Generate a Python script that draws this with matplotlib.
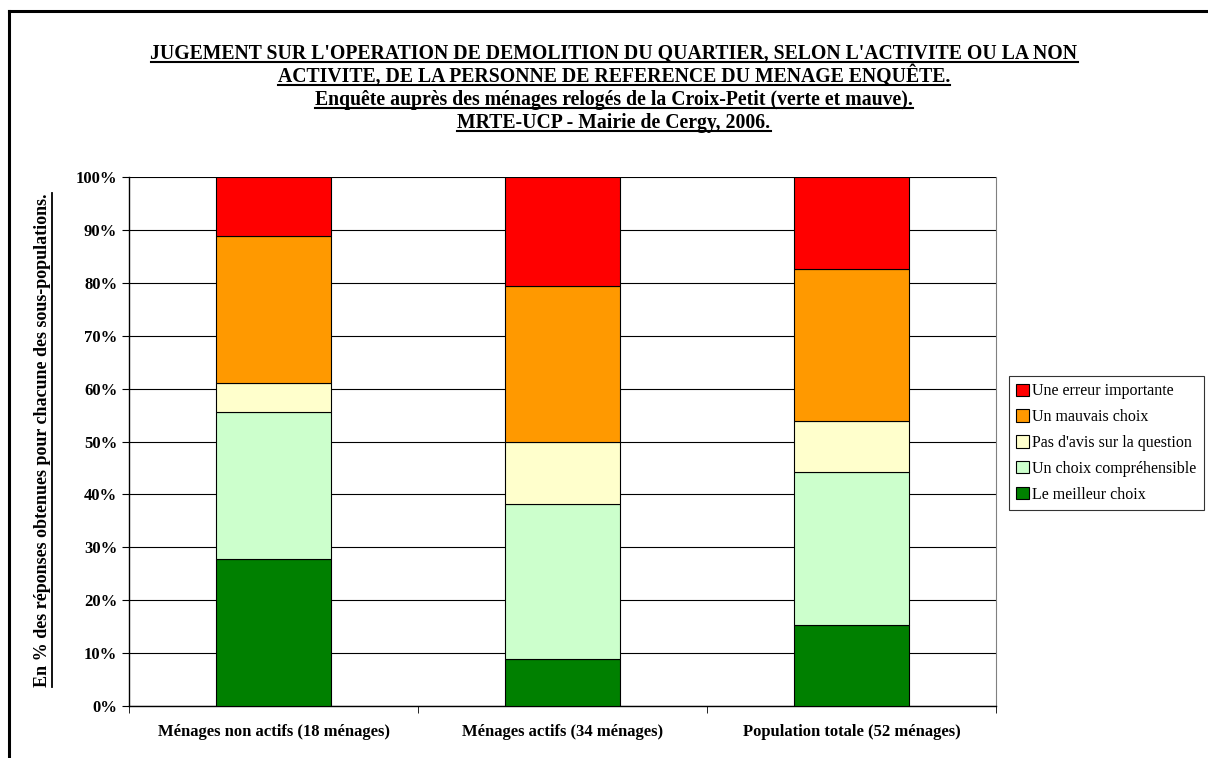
import numpy as np
import matplotlib
matplotlib.use("Agg")
from matplotlib import pyplot as plt
from matplotlib.lines import Line2D
from matplotlib.ticker import PercentFormatter

plt.rcParams['font.family'] = ['Liberation Serif', 'DejaVu Serif']

categories = ["Ménages non actifs (18 ménages)",
              "Ménages actifs (34 ménages)",
              "Population totale (52 ménages)"]
series = ["Le meilleur choix", "Un choix compréhensible",
          "Pas d'avis sur la question", "Un mauvais choix",
          "Une erreur importante"]
colors = ["#008000", "#CCFFCC", "#FFFFCC", "#FF9900", "#FF0000"]

# nombre de ménages par réponse
meilleur = np.array([5, 3, 8])
comprehensible = np.array([5, 10, 15])
sans_avis = np.array([1, 4, 5])
mauvais = np.array([5, 10, 15])
erreur = np.array([2, 7, 9])

title_lines = ["JUGEMENT SUR L'OPERATION DE DEMOLITION DU QUARTIER, SELON L'ACTIVITE OU LA NON",
               "ACTIVITE, DE LA PERSONNE DE REFERENCE DU MENAGE ENQUÊTE.",
               "Enquête auprès des ménages relogés de la Croix-Petit (verte et mauve).",
               "MRTE-UCP - Mairie de Cergy, 2006."]
ylabel = "En % des réponses obtenues pour chacune des sous-populations."

counts = [meilleur, comprehensible, sans_avis, mauvais, erreur]
total = sum(counts)
pct = [c / total * 100 for c in counts]

W, H = 1208, 758
fig = plt.figure(figsize=(W / 100, H / 100), dpi=100)
ax = fig.add_axes([129 / W, 1 - 706 / H, (996 - 129) / W, (706 - 177) / H])

x = np.arange(len(categories))
bottom = np.zeros(len(categories))
handles = []
for name, vals, col in zip(series, pct, colors):
    b = ax.bar(x, vals, 0.4, bottom=bottom, color=col, edgecolor="black",
               linewidth=0.8, label=name, zorder=3)
    handles.append(b)
    bottom += vals

ax.set_xlim(-0.5, 2.5)
ax.set_ylim(0, 100)
ax.set_yticks(np.arange(0, 101, 10))
ax.yaxis.set_major_formatter(PercentFormatter(decimals=0))
ax.yaxis.grid(True, color="black", linewidth=0.8, zorder=0)
ax.set_xticks(x)
ax.set_xticklabels(categories, fontsize=12, fontweight="bold")
ax.set_xticks([-0.5, 0.5, 1.5, 2.5], minor=True)
ax.tick_params(axis="x", which="major", length=0, pad=13)
ax.tick_params(axis="x", which="minor", length=5, direction="out")
ax.tick_params(axis="y", length=5, direction="out", labelsize=12)
for lab in ax.get_yticklabels():
    lab.set_fontweight("bold")
ax.spines["top"].set_visible(False)
ax.spines["right"].set_color("#808080")
ax.spines["left"].set_linewidth(1)
ax.spines["bottom"].set_linewidth(1)

leg = fig.legend(handles[::-1], series[::-1], loc="upper left",
                 bbox_to_anchor=(1009 / W, 1 - 376 / H), frameon=True,
                 fancybox=False, edgecolor="black", fontsize=11.5,
                 handlelength=0.8, handleheight=0.8, handletextpad=0.2,
                 labelspacing=0.62, borderpad=0.45, borderaxespad=0)
leg.get_frame().set_linewidth(0.8)

title_texts = []
for i, line in enumerate(title_lines):
    t = fig.text(614 / W, 1 - (59 + 23 * i) / H, line, ha="center", va="baseline",
                 fontsize=14.2, fontweight="bold")
    title_texts.append(t)

yl = fig.text(43 / W, 1 - 440 / H, ylabel, rotation=90, ha="center", va="center",
              fontsize=13, fontweight="bold")

# cadre du graphique (haut et gauche)
fig.add_artist(Line2D([8.5 / W, 1], [1 - 10.5 / H, 1 - 10.5 / H], color="black", lw=2.2))
fig.add_artist(Line2D([8.5 / W, 8.5 / W], [0, 1 - 10.5 / H], color="black", lw=2.2))

# soulignements
fig.canvas.draw()
r = fig.canvas.get_renderer()
for i, t in enumerate(title_texts):
    bb = t.get_window_extent(r)
    yy = H - (59 + 23 * i) - 2.5
    fig.add_artist(Line2D([bb.x0 / W, bb.x1 / W], [yy / H, yy / H], color="black", lw=1.5))
bb = yl.get_window_extent(r)
xx = bb.x1 + 0.5
fig.add_artist(Line2D([xx / W, xx / W], [bb.y0 / H, bb.y1 / H], color="black", lw=1.3))

fig.savefig("out.png", dpi=100)
